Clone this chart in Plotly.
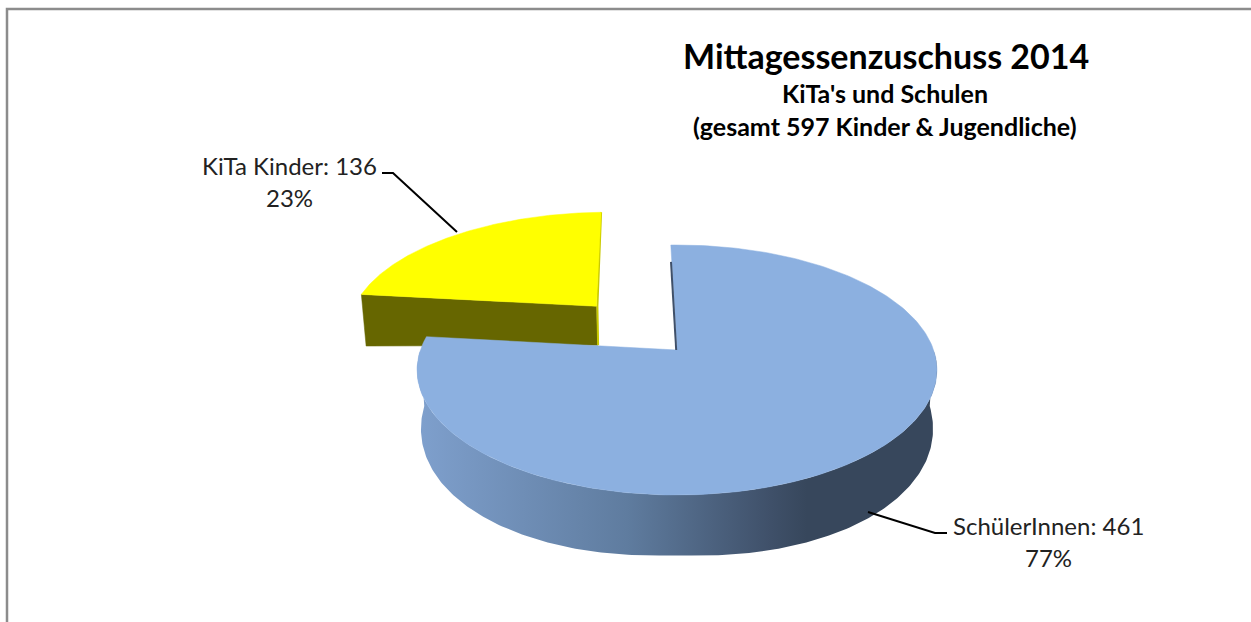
import numpy as np
import plotly.graph_objects as go

# ---- data ----
categories = ["SchülerInnen", "KiTa Kinder"]
values = [461, 136]
percents = ["77%", "23%"]
title_lines = ["Mittagessenzuschuss 2014", "KiTa's und Schulen", "(gesamt 597 Kinder & Jugendliche)"]

# ---- projection of the tilted 3-D pie ----
AX, AY = 677.0, 350.0      # projected pie centre
A, B, K = 256.6, 121.8, 0.16
ROT = np.radians(-1.6)
EXPLODE = 0.507
FONT = "Lato"


def project_top(u, v):
    w = 1 - K * v
    return AX + A * u / w, AY + B * v / w


def project_bottom(u, v):
    x, y = project_top(u, v)
    depth = 41.3 + 18.7 * v + 14.75 * np.abs(u)
    return AX + (x - AX) * 0.985, y + depth


total = sum(values)
sweeps = [2 * np.pi * val / total for val in values]
t0 = [ROT, ROT + sweeps[0]]
t1 = [ROT + sweeps[0], ROT + sweeps[0] + sweeps[1]]


def rim(a, b, n=240, shift=(0.0, 0.0)):
    t = np.linspace(a, b, n)
    return np.sin(t) + shift[0], -np.cos(t) + shift[1]


def poly(xs, ys, fill, name, **kw):
    return go.Scatter(x=xs, y=ys, mode="lines", fill="toself", fillcolor=fill,
                      line=dict(width=0.5, color=fill), hoverinfo="skip", name=name, **kw)


fig = go.Figure()

# --- exploded KiTa slice ---
mid = (t0[1] + t1[1]) / 2
off = (EXPLODE * np.sin(mid) + 0.01, -EXPLODE * np.cos(mid) - 0.008)
ax_u, ax_v = off
us, vs = rim(t0[1], t1[1], shift=off)

# front cut face of the yellow slice
p1t = project_top(us[0], vs[0])
p1b = project_bottom(us[0], vs[0])
pat = project_top(ax_u, ax_v)
pab = project_bottom(ax_u, ax_v)
fig.add_trace(poly([p1t[0], pat[0], pab[0], p1b[0], p1t[0]],
                   [p1t[1], pat[1], pab[1], p1b[1], p1t[1]], "#666600", categories[1] + " Seite"))
# right-hand sliver
pet = project_top(us[-1], vs[-1])
fig.add_trace(go.Scatter(x=[pet[0], pat[0] + 1, pab[0] + 0.5], y=[pet[1], pat[1], pab[1]], mode="lines",
                         line=dict(color="#c8c800", width=2), hoverinfo="skip"))
# top face
xt, yt = project_top(np.r_[ax_u, us, ax_u], np.r_[ax_v, vs, ax_v])
fig.add_trace(poly(xt, yt, "#FFFF00", categories[1]))

# --- SchülerInnen slice ---
ua, va = rim(np.pi / 2, 3 * np.pi / 2)
xa, ya = project_top(ua, va)
xb, yb = project_bottom(ua, va)
fig.add_trace(go.Scatter(
    x=np.r_[xa, xb[::-1], xa[0]], y=np.r_[ya, yb[::-1], ya[0]],
    mode="lines", line=dict(width=0), fill="toself", hoverinfo="skip",
    fillgradient=dict(type="horizontal", start=422, stop=935,
                      colorscale=[[0, "#7E9FCC"], [0.4, "#5F7C9F"], [0.68, "#3F5069"], [0.75, "#37475C"], [1, "#37475C"]]),
))
us, vs = rim(t0[0], t1[0])
xt, yt = project_top(np.r_[0, us, 0], np.r_[0, vs, 0])
fig.add_trace(poly(xt, yt, "#8CB0E0", categories[0]))

# inner wall sliver at the 12 o'clock cut
sx, sy = project_top(us[0], vs[0])
frac = np.array([0.16, 1.0])
fig.add_trace(go.Scatter(x=AX + (sx - AX) * (1 - frac) - 0.8, y=AY + (sy - AY) * (1 - frac), mode="lines",
                         line=dict(color="#3F5069", width=2), hoverinfo="skip"))

# --- leader lines ---
fig.add_trace(go.Scatter(x=[382, 393, 457], y=[173, 173, 232], mode="lines",
                         line=dict(color="#000000", width=2), hoverinfo="skip"))
fig.add_trace(go.Scatter(x=[868, 935, 947], y=[512, 533, 533], mode="lines",
                         line=dict(color="#000000", width=2), hoverinfo="skip"))

# --- frame ---
fig.add_trace(go.Scatter(x=[7, 7, 1251], y=[622, 9, 9], mode="lines",
                         line=dict(color="#8C8C8C", width=2.5), hoverinfo="skip"))

annotations = []


def label(x, y, text, size, bold=False, color="#222222"):
    annotations.append(dict(x=x, y=y, xref="x", yref="y", text=f"<b>{text}</b>" if bold else text,
                            showarrow=False, xanchor="center", yanchor="middle",
                            font=dict(family=FONT, size=size, color=color)))


label(886, 55, title_lines[0], 34, True, "#000000")
label(885, 93, title_lines[1], 25, True, "#000000")
label(885, 126, title_lines[2], 25, True, "#000000")
label(289, 165, f"{categories[1]}: {values[1]}", 24)
label(289, 197, percents[1], 24)
label(1048, 525, f"{categories[0]}: {values[0]}", 24)
label(1048, 557, percents[0], 24)

fig.update_layout(
    width=1251, height=622, margin=dict(l=0, r=0, t=0, b=0), autosize=False,
    paper_bgcolor="#FFFFFF", plot_bgcolor="#FFFFFF", showlegend=False,
    xaxis=dict(range=[0, 1251], visible=False, fixedrange=True),
    yaxis=dict(range=[622, 0], visible=False, fixedrange=True),
    annotations=annotations,
)
fig.write_html("out.html", post_script="document.body.style.margin='0';document.body.style.overflow='hidden';",
               config={"displayModeBar": False})
